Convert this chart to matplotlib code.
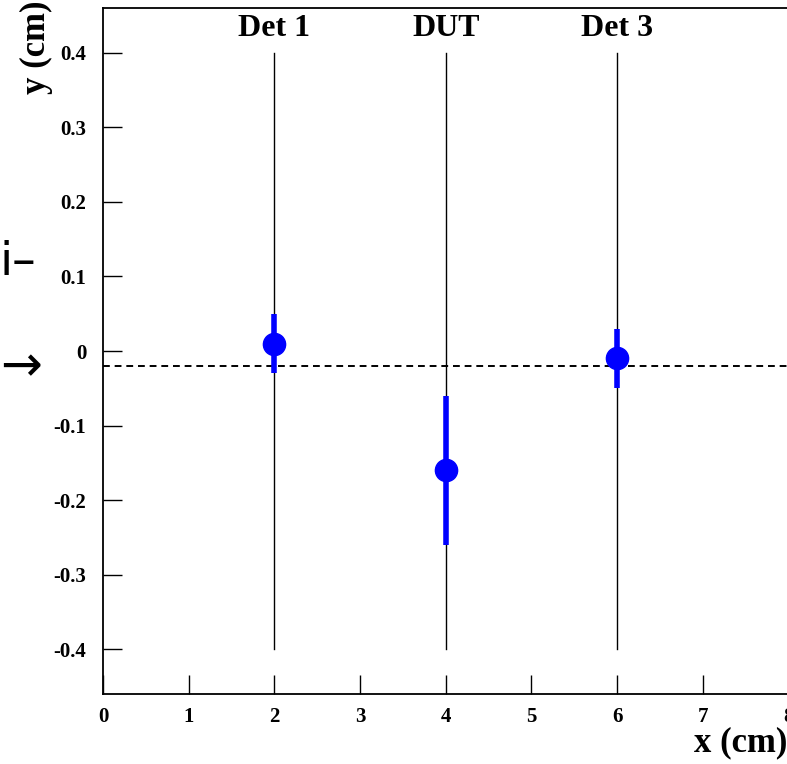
import matplotlib
matplotlib.use("Agg")
import matplotlib.pyplot as plt

plt.rcParams['font.family'] = ['Liberation Serif', 'DejaVu Serif']
plt.rcParams['font.weight'] = 'bold'

# detector planes
plane_x = [2, 4, 6]
plane_names = ["Det 1", "DUT", "Det 3"]

# measured y positions and errors
y_meas = [0.01, -0.16, -0.01]
y_err = [0.04, 0.10, 0.04]

fit_y = -0.02

fig = plt.figure(figsize=(7.87, 7.64), dpi=100)
ax = fig.add_axes([0.1309, 0.0916, 0.8711, 0.8979])

for x, name in zip(plane_x, plane_names):
    ax.plot([x, x], [-0.4, 0.4], color='black', lw=1.0, zorder=1)
    ax.text(x, 0.433, name, ha='center', va='center', fontsize=23, fontweight='bold')

ax.plot([0, 8], [fit_y, fit_y], color='black', lw=1.4, ls=(0, (3.5, 2.5)), zorder=2)

ax.errorbar(plane_x, y_meas, yerr=y_err, fmt='o', color='#0000ff', ms=16,
            elinewidth=4, capsize=0, zorder=3)

ax.set_xlim(0, 8)
ax.set_ylim(-0.46, 0.46)
ax.set_xticks(range(0, 9))
ax.set_yticks([-0.4, -0.3, -0.2, -0.1, 0, 0.1, 0.2, 0.3, 0.4])
ax.set_yticklabels(['-0.4', '-0.3', '-0.2', '-0.1', '0', '0.1', '0.2', '0.3', '0.4'])
ax.tick_params(direction='in', length=14, width=1, labelsize=15, top=False, right=False)
ax.tick_params(axis='y', pad=12)
ax.tick_params(axis='x', pad=9)
for lab in ax.get_xticklabels() + ax.get_yticklabels():
    lab.set_fontweight('bold')
for s in ax.spines.values():
    s.set_linewidth(1.3)

fig.text(1.0, 0.006, "x (cm)", ha='right', va='bottom', fontsize=25, fontweight='bold')
fig.text(0.046, 0.999, "y (cm)", ha='center', va='top', rotation=90, fontsize=25, fontweight='bold')
fig.text(0.0, 0.519, "\u2192", ha='left', va='center', fontsize=36, fontweight='normal',
         family=['DejaVu Sans'])
fig.text(0.0, 0.657, "i\u2013", ha='left', va='center', fontsize=34, fontweight='normal',
         family=['DejaVu Sans'])

fig.savefig("out.png", dpi=100)
